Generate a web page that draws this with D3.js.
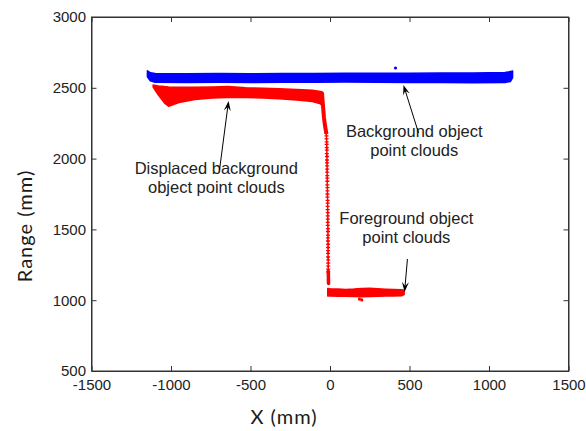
<!DOCTYPE html>
<html>
<head>
<meta charset="utf-8">
<script src="https://cdn.jsdelivr.net/npm/d3@7"></script>
<style>
  body { margin: 0; background: #fff; }
  .tick text { font-family: "Liberation Sans", Arial, sans-serif; font-size: 15px; fill: #222; }
  .note { font-family: "Liberation Sans", Arial, sans-serif; font-size: 16.5px; fill: #222; }
  .axlabel { font-family: Lato, "Open Sans", sans-serif; font-size: 20px; fill: #1a1a1a; letter-spacing: 1px; }
</style>
</head>
<body>
<div id="chart-area"></div>
<script>

// tick values
let xTicks = [-1500, -1000, -500, 0, 500, 1000, 1500];
let yTicks = [500, 1000, 1500, 2000, 2500, 3000];

// background object cloud (blue) : envelope
let blueX  = [-1148, -1130, -1100, -900, -700, -500, -300, -100, 100, 300, 500, 700, 900, 1100, 1135, 1148];
let blueLo = [ 2578,  2550,  2540, 2538, 2539, 2537, 2540, 2540, 2541, 2540, 2538, 2537, 2536, 2537, 2545, 2572];
let blueHi = [ 2620,  2606,  2600, 2599, 2600, 2599, 2601, 2601, 2603, 2603, 2603, 2604, 2605, 2608, 2614, 2619];

// displaced background cloud (red, upper part)
let redX  = [-1112, -1080, -1040, -1015, -950, -850, -740, -640, -530, -420, -320, -210, -110, -60, -48];
let redLo = [ 2505,  2450,  2392,  2370, 2396, 2417, 2428, 2432, 2432, 2428, 2423, 2414, 2404, 2388, 2372];
let redHi = [ 2520,  2513,  2508,  2506, 2504, 2503, 2506, 2508, 2500, 2496, 2493, 2488, 2482, 2474, 2468];

// steep edge, dense part
let edgeX = [-50, -46, -42, -38, -33, -28, -24];
let edgeY = [2460, 2400, 2345, 2290, 2245, 2210, 2185];

// sparse points along the depth jump
let dropX = [-23, -22, -22, -21, -21, -20, -20, -20, -19, -19, -19, -18, -18, -18, -17, -17, -17, -17, -16, -16, -16, -16, -15, -15, -15, -15, -14, -14, -14, -14, -14, -13, -13, -13, -13, -13, -12, -12, -12, -12, -12, -11, -11, -11, -11, -11];
let dropY = [2180, 2160, 2140, 2118, 2100, 2078, 2060, 2035, 2015, 1990, 1970, 1948, 1925, 1905, 1880, 1862, 1840, 1815, 1795, 1772, 1750, 1728, 1705, 1685, 1662, 1640, 1618, 1595, 1572, 1550, 1528, 1505, 1485, 1460, 1440, 1418, 1395, 1372, 1350, 1330, 1305, 1285, 1262, 1240, 1220, 1200];

// dense bottom of the jump
let footX = [-11, -10, -10, -9];
let footY = [1205, 1170, 1140, 1118];

// foreground object cloud (red, floor)
let floorX  = [-14, 0, 50, 100, 150, 200, 250, 300, 350, 400, 450, 466];
let floorLo = [1030, 1030, 1029, 1028, 1026, 1024, 1026, 1028, 1030, 1030, 1032, 1040];
let floorHi = [1082, 1080, 1078, 1076, 1078, 1082, 1084, 1080, 1077, 1075, 1073, 1070];

// stray points
let strayX = [412, 200, 185];
let strayY = [2640, 1002, 1008];
let strayC = ["#0000ff", "#ff0000", "#ff0000"];

// annotations: text lines, anchor in data units, arrow tail/tip in data units
let notes = [
	{lines: ["Displaced background", "object point clouds"], tx: -715, ty: 1894, from: [-695, 1919], to: [-638, 2407]},
	{lines: ["Background object", "point clouds"], tx: 530, ty: 2155, from: [557, 2181], to: [462, 2520]},
	{lines: ["Foreground object", "point clouds"], tx: 480, ty: 1536, from: [487, 1291], to: [469, 1058]}
];

let W = 586, H = 431;
let pLeft = 91.5, pRight = 568.5, pTop = 17, pBottom = 371;

let svg = d3.select("#chart-area").append("svg")
	.attr("width", W)
	.attr("height", H);

let x = d3.scaleLinear().domain([-1500, 1500]).range([pLeft, pRight]);
let y = d3.scaleLinear().domain([500, 3000]).range([pBottom, pTop]);

let band = d3.area()
	.x(d => x(d[0]))
	.y0(d => y(d[1]))
	.y1(d => y(d[2]));

function drawBand(xs, lo, hi, color) {
	svg.append("path")
		.datum(xs.map((v, i) => [v, lo[i], hi[i]]))
		.attr("d", band)
		.attr("fill", color)
		.attr("stroke", color)
		.attr("stroke-width", 1.6)
		.attr("stroke-linejoin", "round");
}

drawBand(blueX, blueLo, blueHi, "#0000ff");
drawBand(redX, redLo, redHi, "#ff0000");
drawBand(floorX, floorLo, floorHi, "#ff0000");

let line = d3.line().x(d => x(d[0])).y(d => y(d[1]));

svg.append("path")
	.datum(edgeX.map((v, i) => [v, edgeY[i]]))
	.attr("d", line)
	.attr("fill", "none")
	.attr("stroke", "#ff0000")
	.attr("stroke-width", 4)
	.attr("stroke-linecap", "round");

svg.append("path")
	.datum(dropX.map((v, i) => [v, dropY[i]]))
	.attr("d", line)
	.attr("fill", "none")
	.attr("stroke", "#ff0000")
	.attr("stroke-width", 1.2);

svg.append("g").selectAll("path")
	.data(dropX.map((v, i) => [v, dropY[i]]))
	.enter().append("path")
	.attr("d", d => "M" + (x(d[0]) - 2) + "," + y(d[1]) + "h4M" + x(d[0]) + "," + (y(d[1]) - 1.5) + "v3")
	.attr("stroke", "#ff0000")
	.attr("stroke-width", 1.3);

svg.append("path")
	.datum(footX.map((v, i) => [v, footY[i]]))
	.attr("d", line)
	.attr("fill", "none")
	.attr("stroke", "#ff0000")
	.attr("stroke-width", 3.5)
	.attr("stroke-linecap", "round");

svg.append("g").selectAll("circle")
	.data(strayX)
	.enter().append("circle")
	.attr("cx", d => x(d))
	.attr("cy", (d, i) => y(strayY[i]))
	.attr("r", 1.6)
	.attr("fill", (d, i) => strayC[i]);

// axes, MATLAB style box with inward ticks
let axisColor = "#333";
let plain = d => String(d);

svg.append("g")
	.attr("transform", "translate(0," + pBottom + ")")
	.call(d3.axisBottom(x).tickValues(xTicks).tickFormat(plain).tickSizeInner(-5).tickSizeOuter(0).tickPadding(8));

svg.append("g")
	.attr("transform", "translate(" + pLeft + ",0)")
	.call(d3.axisLeft(y).tickValues(yTicks).tickFormat(plain).tickSizeInner(-5).tickSizeOuter(0).tickPadding(5.5));

svg.append("g")
	.attr("transform", "translate(0," + pTop + ")")
	.call(d3.axisTop(x).tickValues(xTicks).tickSizeInner(-5).tickSizeOuter(0).tickFormat(""));

svg.append("g")
	.attr("transform", "translate(" + pRight + ",0)")
	.call(d3.axisRight(y).tickValues(yTicks).tickSizeInner(-5).tickSizeOuter(0).tickFormat(""));

svg.selectAll(".domain, .tick line").attr("stroke", axisColor);

svg.append("rect")
	.attr("x", pLeft)
	.attr("y", pTop)
	.attr("width", pRight - pLeft)
	.attr("height", pBottom - pTop)
	.attr("fill", "none")
	.attr("stroke", axisColor)
	.attr("stroke-width", 1);

// axis labels
svg.append("text")
	.attr("class", "axlabel")
	.attr("x", 284)
	.attr("y", 424)
	.attr("text-anchor", "middle")
	.text("X (mm)");

svg.append("text")
	.attr("class", "axlabel")
	.attr("transform", "translate(32,226) rotate(-90)")
	.attr("text-anchor", "middle")
	.text("Range (mm)");

// annotations with arrows
notes.forEach(function(n) {
	let t = svg.append("text")
		.attr("class", "note")
		.attr("text-anchor", "middle");
	n.lines.forEach(function(s, i) {
		t.append("tspan")
			.attr("x", x(n.tx))
			.attr("y", y(n.ty) + i * 19)
			.text(s);
	});

	let x0 = x(n.from[0]), y0 = y(n.from[1]);
	let x1 = x(n.to[0]), y1 = y(n.to[1]);
	let ang = Math.atan2(y1 - y0, x1 - x0);
	let len = 10, wid = 3.5;
	let bx = x1 - len * Math.cos(ang), by = y1 - len * Math.sin(ang);
	let px = -Math.sin(ang), py = Math.cos(ang);
	let mx = x1 - len * 0.6 * Math.cos(ang), my = y1 - len * 0.6 * Math.sin(ang);

	svg.append("line")
		.attr("x1", x0).attr("y1", y0)
		.attr("x2", mx).attr("y2", my)
		.attr("stroke", "#000")
		.attr("stroke-width", 1);

	svg.append("path")
		.attr("d", "M" + x1 + "," + y1 +
			"L" + (bx + px * wid) + "," + (by + py * wid) +
			"L" + mx + "," + my +
			"L" + (bx - px * wid) + "," + (by - py * wid) + "Z")
		.attr("fill", "#000");
});

</script>
</body>
</html>
